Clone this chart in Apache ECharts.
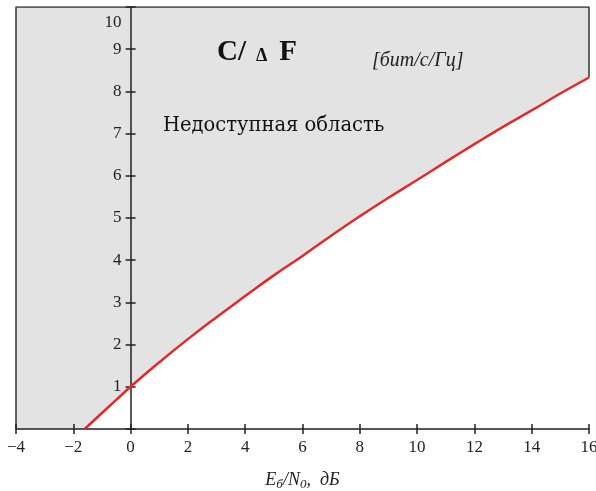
<!DOCTYPE html>
<html>
<head>
<meta charset="utf-8">
<script src="https://cdn.jsdelivr.net/npm/echarts@6/dist/echarts.min.js"></script>
<style>
html,body{margin:0;padding:0;background:#fff;}
#c{width:596px;height:491px;}
</style>
</head>
<body>
<div id="c"></div>
<script>
// Shannon boundary: Eb/N0 (dB) vs C/ΔF (bit/s/Hz)
const ebn0 = [-1.6, -1, -0.5, 0, 1, 2, 3, 4, 5, 6, 7, 8, 9, 10, 11, 12, 13, 14, 15, 16];
const capacity = [0, 0.38, 0.69, 1, 1.58, 2.13, 2.65, 3.15, 3.64, 4.1, 4.58, 5.04, 5.48, 5.9, 6.33, 6.75, 7.16, 7.55, 7.95, 8.33];
const xTicks = [-4, -2, 0, 2, 4, 6, 8, 10, 12, 14, 16];
const yTicks = [0, 1, 2, 3, 4, 5, 6, 7, 8, 9, 10];

const X_MIN = xTicks[0], X_MAX = xTicks[xTicks.length - 1];
const Y_MIN = yTicks[0], Y_MAX = yTicks[yTicks.length - 1];

const curve = ebn0.map((x, i) => [x, capacity[i]]);
const region = [[X_MIN, Y_MIN], [X_MIN, Y_MAX], [X_MAX, Y_MAX]].concat(curve.slice().reverse());
const frame = [[X_MIN, Y_MIN], [X_MIN, Y_MAX], [X_MAX, Y_MAX], [X_MAX, capacity[capacity.length - 1]]];

const FONT = '"Liberation Serif", "DejaVu Serif", serif';
const AX = '#222';

const chart = echarts.init(document.getElementById('c'));
const grid = { left: 16, right: 7, top: 7, bottom: 62, containLabel: false, outerBoundsMode: 'none' };

function yAxes(offset) {
  return [{
    type: 'value', min: Y_MIN, max: Y_MAX, interval: 1, z: 3, offset: offset,
    axisLine: { onZero: false, lineStyle: { color: AX, width: 1.5 } },
    axisTick: { show: true, inside: false, length: 5, lineStyle: { color: AX, width: 1.5 } },
    axisLabel: { margin: 9, fontFamily: FONT, fontSize: 17, color: AX,
      formatter: v => v === Y_MIN ? '' : (v === Y_MAX ? '{t|' + v + '}' : String(v)),
      rich: { t: { fontFamily: FONT, fontSize: 17, color: AX, padding: [31, 0, 0, 0] } }
    },
    splitLine: { show: false }
  }, {
    type: 'value', min: Y_MIN, max: Y_MAX, interval: 1, position: 'left', z: 3, offset: offset,
    axisLine: { show: false, onZero: false },
    axisTick: { show: true, inside: true, length: 5, lineStyle: { color: AX, width: 1.5 } },
    axisLabel: { show: false },
    splitLine: { show: false }
  }];
}

chart.setOption({
  animation: false,
  backgroundColor: '#fff',
  grid: grid,
  xAxis: [{
    type: 'value', min: X_MIN, max: X_MAX, interval: 2, z: 3,
    axisLine: { onZero: false, lineStyle: { color: AX, width: 1.5 } },
    axisTick: { show: true, inside: false, length: 5, lineStyle: { color: AX, width: 1.5 } },
    axisLabel: { margin: 10, fontFamily: FONT, fontSize: 17, color: AX,
      formatter: v => String(v).replace('-', '\u2212') },
    splitLine: { show: false },
    name: '{i|E}{s|б}{i|/N}{s|0}{i|,  дБ}',
    nameLocation: 'middle', nameGap: 41,
    nameTextStyle: {
      rich: {
        i: { fontFamily: FONT, fontStyle: 'italic', fontSize: 18, color: AX },
        s: { fontFamily: FONT, fontStyle: 'italic', fontSize: 13, color: AX, padding: [8, 0, 0, 0] }
      }
    }
  }, {
    type: 'value', min: X_MIN, max: X_MAX, interval: 2, position: 'bottom', z: 3,
    axisLine: { show: false, onZero: false },
    axisTick: { show: true, inside: true, length: 5, lineStyle: { color: AX, width: 1.5 } },
    axisLabel: { show: false },
    splitLine: { show: false }
  }],
  yAxis: yAxes(0),
  series: [{
    type: 'custom', z: 1, silent: true, clip: false,
    data: [[0, 0]],
    renderItem: function (params, api) {
      const pts = region.map(p => api.coord(p));
      return { type: 'polygon', shape: { points: pts }, style: { fill: '#e3e3e3', stroke: null } };
    }
  }, {
    type: 'line', z: 2, data: frame, symbol: 'none', silent: true,
    lineStyle: { color: '#333', width: 1.5 }
  }, {
    type: 'line', z: 4, data: curve, symbol: 'none', smooth: true, silent: true,
    lineStyle: { color: '#e02a2a', width: 2.5 }
  }],
  graphic: [{
    type: 'text', x: 217, y: 53, z: 10,
    style: {
      text: '{b|C/}{d|Δ}{b|F}',
      verticalAlign: 'middle', align: 'left',
      rich: {
        b: { fontFamily: FONT, fontWeight: 'bold', fontSize: 29, fill: '#111' },
        d: { fontFamily: FONT, fontWeight: 'bold', fontSize: 18, fill: '#111', padding: [6, 12, 0, 10] }
      }
    }
  }, {
    type: 'text', x: 372, y: 61, z: 10,
    style: { text: '[бит/с/Гц]', fontFamily: FONT, fontStyle: 'italic', fontSize: 20, fill: '#222',
      align: 'left', verticalAlign: 'middle' }
  }, {
    type: 'text', x: 163, y: 126, z: 10,
    style: { text: 'Недоступная область', fontFamily: '"DejaVu Serif", serif', fontSize: 19.5, fill: '#111',
      align: 'left', verticalAlign: 'middle' }
  }]
});

// Move the y axis onto x = 0 using the library's own x scale.
const zeroPx = chart.convertToPixel({ xAxisIndex: 0 }, 0);
const leftPx = chart.convertToPixel({ xAxisIndex: 0 }, X_MIN);
chart.setOption({ yAxis: yAxes(-(zeroPx - leftPx)) });
</script>
</body>
</html>
